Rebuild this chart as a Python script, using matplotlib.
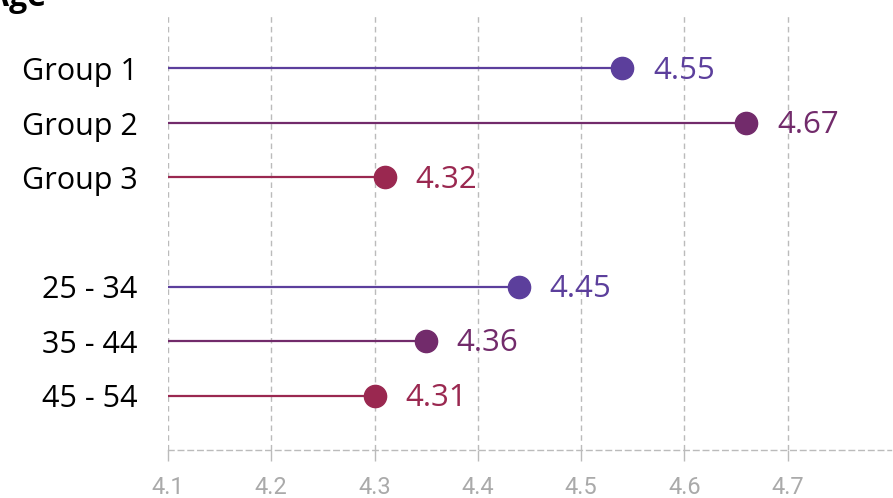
import matplotlib
matplotlib.use("Agg")
import matplotlib.pyplot as plt

title = "Age"
categories = ["Group 1", "Group 2", "Group 3", "", "25 - 34", "35 - 44", "45 - 54"]
values = [4.54, 4.66, 4.31, None, 4.44, 4.35, 4.30]
value_labels = ["4.55", "4.67", "4.32", "", "4.45", "4.36", "4.31"]
colors = ["#5C3F9C", "#722B6B", "#9A2850", None, "#5C3F9C", "#722B6B", "#9A2850"]
xticks = [4.1, 4.2, 4.3, 4.4, 4.5, 4.6, 4.7]

plt.rcParams['font.family'] = ['Open Sans', 'DejaVu Sans']

fig = plt.figure(figsize=(8.93, 4.98), dpi=100)
ax = fig.add_axes([168/893, 1-450/498, (891-168)/893, (450-14)/498])

xmin = 4.1
for i, (v, c, lab) in enumerate(zip(values, colors, value_labels)):
    if v is None:
        continue
    ax.plot([xmin, v], [i, i], color=c, lw=1.6, zorder=3, solid_capstyle='butt')
    ax.plot([v], [i], 'o', color=c, ms=16, zorder=4)
    ax.annotate(lab, (v, i), xytext=(22, -1.5), textcoords='offset points',
                va='center', ha='left', color=c, fontsize=22.5)

ax.set_xlim(4.1, 4.8)
ax.set_ylim(7, -1)
ax.set_xticks(xticks)
ax.set_xticklabels([f"{t:.1f}" for t in xticks], color="#AAAAAA", fontsize=17,
                   family=['Roboto', 'DejaVu Sans'])
ax.set_yticks(range(len(categories)))
ax.set_yticklabels(categories, fontsize=22, color="black")
ax.tick_params(axis='y', length=0, pad=22)
ax.tick_params(axis='x', length=8, color="#BBBBBB", width=1, pad=11)
ax.grid(axis='x', color="#BBBBBB", linestyle=(0, (4, 3)), lw=1)
ax.set_axisbelow(True)
for s in ['top', 'right', 'left']:
    ax.spines[s].set_visible(False)
ax.spines['bottom'].set_color("#BBBBBB")
ax.spines['bottom'].set_linestyle((0, (4, 3)))
ax.spines['bottom'].set_linewidth(1)

fig.text(46/893, 1 - 6/498, title, fontsize=23, fontweight='bold', ha='right', va='baseline')

fig.savefig("out.png", dpi=100)
